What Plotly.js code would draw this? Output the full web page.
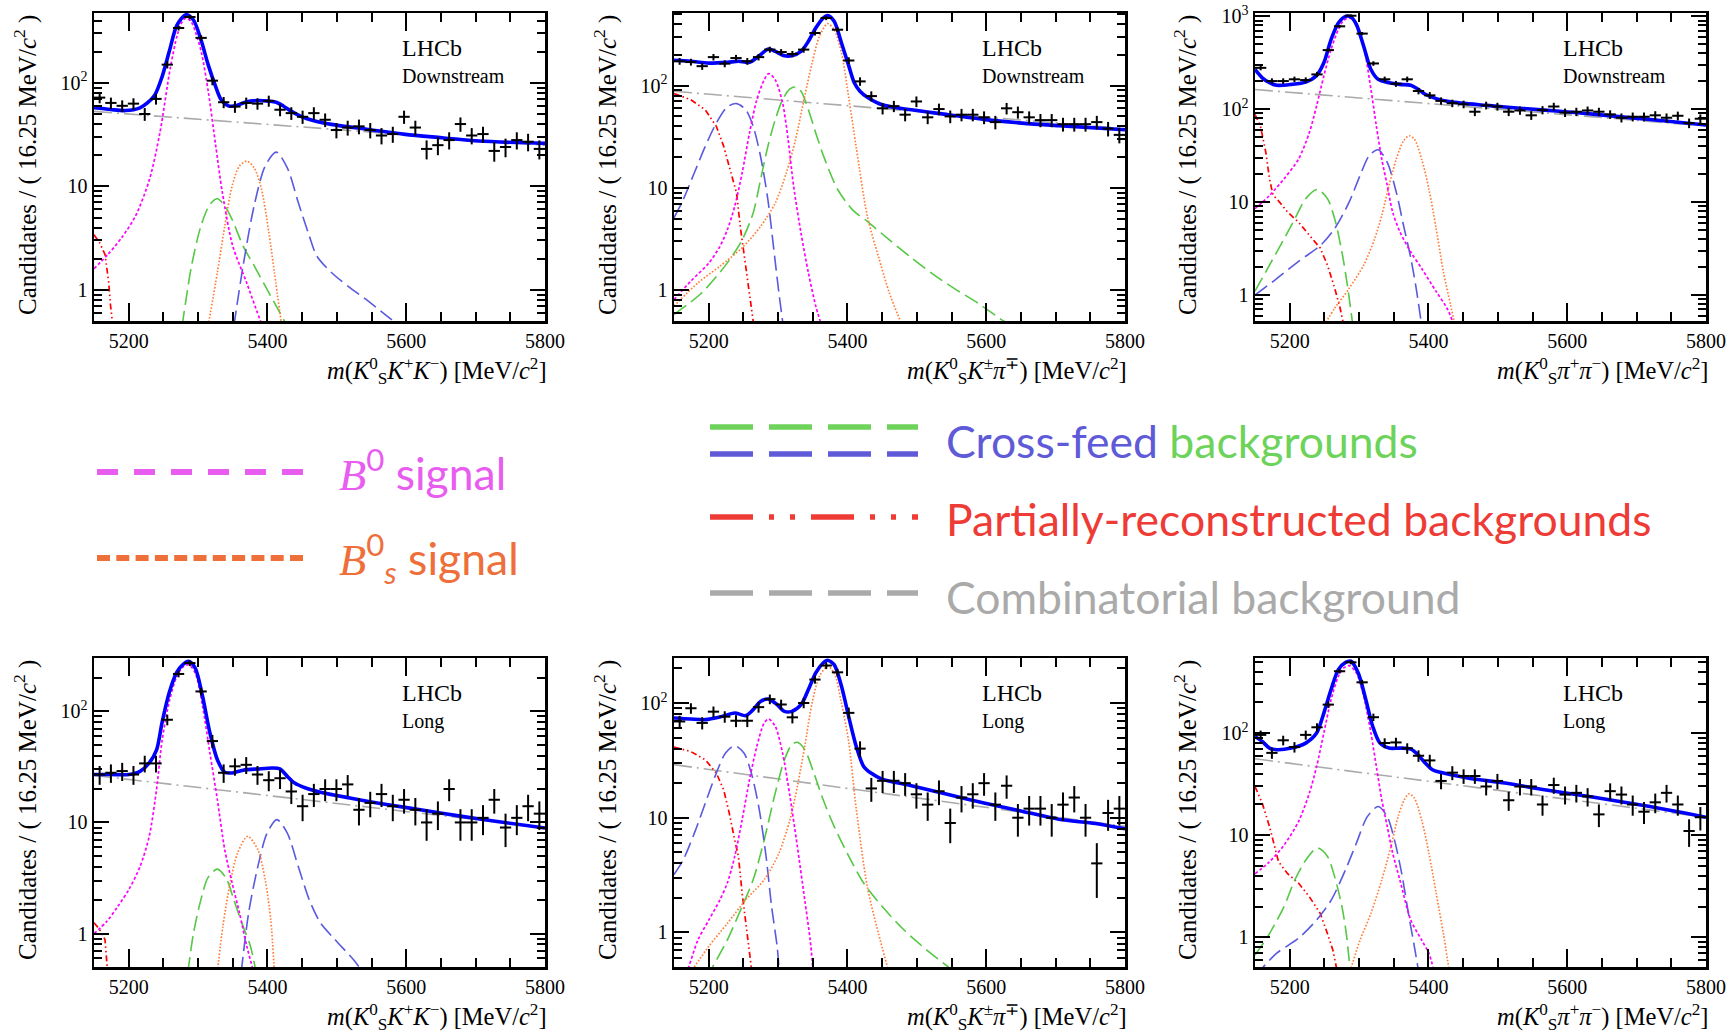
<!DOCTYPE html>
<html>
<head>
<meta charset="utf-8">
<script src="https://cdn.plot.ly/plotly-3.0.1.min.js"></script>
<style>html,body{margin:0;padding:0;background:#fff;}#chart{width:1731px;height:1033px;}</style>
</head>
<body>
<div id="chart"></div>
<script>
// ---------------- DATA ----------------
const binCenters = [5158.125,5174.375,5190.625,5206.875,5223.125,5239.375,5255.625,5271.875,5288.125,5304.375,5320.625,5336.875,5353.125,5369.375,5385.625,5401.875,5418.125,5434.375,5450.625,5466.875,5483.125,5499.375,5515.625,5531.875,5548.125,5564.375,5580.625,5596.875,5613.125,5629.375,5645.625,5661.875,5678.125,5694.375,5710.625,5726.875,5743.125,5759.375,5775.625,5791.875];
const binHalfWidth = 8.125;

// Panel 1: K0S K+ K-, Downstream
const p1Counts = [72,64,60,63,50,70,150,339,433,272,105,65,59,64,63,67,55,51,47,51,44,35,37,38,35,31,32,47,37,23,25,28,40,31,32,22,24,28,27,23];
const p1TotX = [5150,5173.9,5195.1,5216.3,5226.9,5237.5,5248.2,5258.8,5269.4,5282.7,5293.3,5303.9,5314.5,5325.1,5333.1,5343.7,5354.3,5364.9,5375.5,5386.1,5402,5412.6,5423.3,5433.9,5449.8,5465.7,5492.2,5545.3,5598.4,5651.4,5704.5,5800];
const p1TotY = [57.4,55.3,54,57.4,64,76,115,205,360,456,405,265,150,93,69,60,60,64,66.6,67.5,66.6,65,59.5,53.3,47,43.3,39.7,35.5,31.8,29.5,27.4,26];
const p1CombX = [5150,5800], p1CombY = [53,25];
const p1B0X = [5150,5170,5190,5210,5230,5245,5260,5270,5277,5283,5290,5297,5305,5315,5325,5335,5350,5370,5390,5400];
const p1B0Y = [1.6,2.2,3.2,5.2,11.7,33,140,290,390,424,390,300,194,80,26,8.7,2.65,1.17,0.5,0.35];
const p1GreenX = [5277,5282.7,5290.6,5303.9,5317.1,5327.8,5338.4,5349,5364.9,5380.8,5396.7,5418,5426];
const p1GreenY = [0.45,0.81,1.71,4.1,6.7,7.6,6.5,4.8,2.65,1.71,1.09,0.6,0.48];
const p1BsX = [5314.5,5327.8,5338.4,5349,5359.6,5370.2,5380.8,5391.4,5402,5410,5420.6];
const p1BsY = [0.45,1.47,4.1,10.1,15.7,17.5,15.1,9.4,3.6,1.47,0.45];
const p1BlueX = [5351.6,5364.9,5380.8,5396.7,5412.7,5428.6,5444.5,5460.4,5471,5492.2,5518.8,5545.3,5566.5,5585];
const p1BlueY = [0.45,1.71,6.5,15.7,21.4,15.1,6.95,3.3,2.13,1.47,1.05,0.78,0.6,0.48];
const p1RedX = [5150,5158,5165.9,5171.2,5173.9,5176.5,5178];
const p1RedY = [3.4,2.86,2.2,1.18,0.7,0.5,0.4];

// Panel 2: K0S K± π∓, Downstream
const p2Counts = [173,170,155,190,164,186,173,190,225,213,204,225,327,458,352,176,110,79,60,63,52,70,49,59,50,52,52,49,44,60,55,49,46,46,42,42,42,44,38,33];
const p2TotX = [5150,5173.9,5200.4,5226.9,5242.9,5258.8,5274.7,5286.4,5295.9,5309.2,5319.8,5333.1,5343.7,5354.3,5364.9,5371.3,5380.8,5391.4,5402,5410,5418,5428.6,5449.8,5492.2,5545.3,5598.4,5651.4,5704.5,5800];
const p2TotY = [177,173,166,169,173,169,201,228,216,196,196,216,271,366,458,483,425,261,155,106,88,77,65,58,52,46.5,43,40.6,37];
const p2CombX = [5150,5800], p2CombY = [88,38];
const p2B0X = [5150,5173.9,5200.4,5216.3,5226.9,5237.5,5248.2,5258.8,5269.4,5280,5286.4,5295.9,5306.5,5314.5,5322.4,5333.1,5343.7,5354.3,5360.7];
const p2B0Y = [0.81,1.22,1.85,2.69,3.9,6.6,14,34.4,73,114,131,114,68,29.6,10.4,3.6,1.48,0.7,0.5];
const p2GreenX = [5150,5189.8,5226.9,5248.2,5264.1,5274.7,5285.3,5295.9,5306.5,5317.1,5325.1,5333.1,5343.7,5354.3,5367.5,5386.1,5407.3,5428.6,5460.4,5492.2,5524.1,5555.9,5587.7,5624.9,5635.5];
const p2GreenY = [0.58,0.94,1.85,3.1,5.7,12,25.5,46.5,73,93,97,88,58,34.4,18.9,9.6,6.1,4.7,3.1,2.07,1.42,1.02,0.75,0.5,0.45];
const p2BlueX = [5150,5163.3,5179.2,5195.1,5211,5226.9,5240.2,5253.5,5264.1,5274.7,5285.3,5293.3,5301.2,5306.5];
const p2BlueY = [5.1,7.7,14,25.5,43,62,66.7,58,40,20.4,7.7,2.7,0.94,0.5];
const p2BsX = [5150,5184.5,5216.3,5248.2,5274.7,5295.9,5311.8,5325.1,5338.4,5349,5359.6,5371.3,5380.8,5391.4,5402,5412.6,5428.6,5444.5,5460.4,5476.3];
const p2BsY = [0.7,1.18,1.72,2.6,4.2,7.1,14,29.6,79,166,303,403,352,210,75,25,5.3,2.15,0.94,0.5];
const p2RedX = [5150,5173.9,5195.1,5211,5221.6,5232.2,5240.2,5245.5,5250.8,5258.8,5264.1];
const p2RedY = [83.6,73,58,40,25.5,14,8.9,4.2,2.3,1.0,0.5];

// Panel 3: K0S π+ π-, Downstream
const p3Counts = [279,201,201,210,206,237,433,781,1016,652,311,210,188,210,157,141,123,116,113,94,110,107,94,97,86,98,107,92,94,97,94,88,81,83,83,86,81,85,71,79];
const p3TotX = [5150,5160.4,5170.9,5181.3,5202.2,5223.1,5238.8,5249.2,5259.6,5270.1,5280.5,5288.4,5296.2,5306.6,5317.1,5327.5,5343.2,5358.8,5374.5,5385,5395.4,5411.1,5431.9,5484.1,5536.4,5588.6,5640.8,5693,5745.2,5800];
const p3TotY = [268,218,193,181,185,196,231,316,562,849,1000,984,815,477,268,210,193,185,181,164,145,130,120,110,102,95,88,80.7,74.3,67.5];
const p3CombX = [5150,5800], p3CombY = [163,66];
const p3B0X = [5150,5170.9,5191.8,5212.7,5228.3,5238.8,5249.2,5259.6,5270.1,5277.9,5285.7,5296.2,5306.6,5317.1,5324.9,5332.7,5340.6,5348.4,5358.8,5374.5,5390.2,5411.1,5426.7,5437.2];
const p3B0Y = [8.5,11.8,17.8,29,56,109,228,440,720,906,960,834,477,164,66,29,15.1,7.8,4.8,2.9,1.93,1.09,0.72,0.47];
const p3GreenX = [5150,5170.9,5191.8,5207.4,5223.1,5239.8,5254.4,5264.9,5275.3,5283.1,5291];
const p3GreenY = [1.1,2.1,4.0,6.6,10.9,13.7,10.9,6.6,2.9,1.28,0.47];
const p3BlueX = [5150,5181.3,5212.7,5244,5264.9,5285.7,5301.4,5314.5,5327.5,5340.6,5353.6,5364.1,5374.5,5382.3,5390.2];
const p3BlueY = [1.0,1.5,2.3,3.4,5.2,10,19.3,31.6,36.6,26.8,12.8,5.6,2.5,1.18,0.47];
const p3BsX = [5249.2,5264.9,5285.7,5306.6,5322.3,5332.7,5343.2,5353.6,5364.1,5371.9,5379.7,5390.2,5400.6,5411.1,5421.5,5431.9,5438.2];
const p3BsY = [0.47,0.72,1.18,2.1,4.0,7.2,15.1,29,45.8,51.8,47.7,29,13.9,5.2,1.78,0.78,0.47];
const p3RedX = [5150,5157.8,5165.7,5170.9,5176.1,5181.3,5197,5212.7,5228.3,5244,5254.4,5264.9,5272.7,5277.9];
const p3RedY = [88,66,34,17.8,11.8,10.9,7.8,6.1,4.4,3.2,2.1,1.18,0.72,0.47];

// Panel 4: K0S K+ K-, Long
const p4Counts = [27,28,29,27,34,34,84,217,272,151,54,28,32,33,27,24,25,19,14,18,20,20,22,13,15,18,14,16,13,10,12,20,10,10,11,16,9,11,14,12];
const p4TotX = [5150,5173.9,5200.4,5216.3,5229.6,5240.2,5248.2,5258.8,5269.4,5278.4,5286.4,5295.9,5306.5,5317.1,5327.8,5338.4,5349,5364.9,5386.1,5407.3,5418,5428.6,5439.2,5455.1,5476.3,5518.8,5571.8,5624.9,5678,5731,5800];
const p4TotY = [27,27,27,28.8,34.3,45,80,150,225,265,282,245,136,63.8,36.7,28.3,27.9,29.5,30.3,30.9,30.3,26,22.6,20.4,18.7,16.6,14.5,12.9,11.4,10.2,8.9];
const p4CombX = [5150,5800], p4CombY = [26.5,9.0];
const p4B0X = [5150,5168.6,5184.5,5200.4,5216.3,5229.6,5240.2,5248.2,5258.8,5269.4,5278.4,5286.4,5295.9,5306.5,5317.1,5327.8,5338.4,5349,5359.6,5370.2,5378.2];
const p4B0Y = [1.0,1.29,1.76,2.5,4.0,7.5,20,55,125,207,251,263,221,111,42,16,5.7,2.86,1.54,0.77,0.5];
const p4GreenX = [5285.3,5293.3,5303.9,5314.5,5327.8,5341,5351.6,5364.9,5375.5,5383.5];
const p4GreenY = [0.45,1.0,2.0,3.2,3.8,3.1,2.0,1.16,0.77,0.45];
const p4BsX = [5327.8,5335.7,5346.3,5356.9,5371.3,5386.1,5396.7,5404.7,5410];
const p4BsY = [0.45,1.16,2.86,5.3,7.5,5.7,3.06,1.34,0.45];
const p4BlueX = [5362.2,5372.9,5386.1,5399.4,5413.7,5428.6,5444.5,5460.4,5476.3,5497.5,5524.1,5532];
const p4BlueY = [0.45,1.54,4.0,8.0,10.6,8.0,4.0,2.0,1.25,0.88,0.58,0.5];
const p4RedX = [5150,5158,5165.9,5169.6];
const p4RedY = [1.25,1.09,0.88,0.45];

// Panel 5: K0S K± π∓, Long
const p5Counts = [69,90,67,84,76,70,70,92,108,97,75,100,160,212,185,82,40,18,21,21,20,16,13,17,9,15,16,20,13,19,10,12,12,10,13,15,10,4,11,12];
const p5TotX = [5150,5173.9,5195.1,5216.3,5237.5,5253.5,5264.1,5274.7,5286.4,5298.6,5309.2,5319.8,5333.1,5343.7,5354.3,5364.9,5371.3,5380.8,5391.4,5402,5412.6,5423.3,5433.9,5449.8,5492.2,5545.3,5598.4,5651.4,5704.5,5757.5,5800];
const p5TotY = [74,72.5,71.6,75.5,81.8,77.6,87.5,103,108,96.7,84.5,84.5,96.7,131,183,223,236,216,140,75,41.9,28,24.5,21.7,19,15.9,13.4,11.4,9.7,8.9,8.0];
const p5CombX = [5150,5800], p5CombY = [29,8.4];
const p5B0X = [5165,5171.2,5184.5,5200.4,5216.3,5226.9,5237.5,5248.2,5258.8,5269.4,5280,5286.4,5295.9,5306.5,5317.1,5327.8,5338.4,5346.3,5350];
const p5B0Y = [0.4,0.5,0.86,1.29,1.93,2.7,4.6,9.6,21.4,41.9,67,72.5,62.7,36.6,15.4,5.6,1.93,0.86,0.5];
const p5GreenX = [5198,5205.7,5226.9,5248.2,5264.1,5280,5295.9,5309.2,5319.8,5327.8,5338.4,5351.6,5364.9,5380.8,5402,5423.3,5449.8,5481.6,5513.5,5545.3,5555];
const p5GreenY = [0.4,0.5,0.86,1.69,2.88,6.4,16.4,32,43.4,45.4,39.2,24.5,14.4,8.4,4.6,2.7,1.69,1.05,0.71,0.5,0.45];
const p5BlueX = [5150,5163.3,5179.2,5195.1,5211,5224.3,5237.5,5250.8,5261.4,5272,5282.7,5290.6,5298.6,5301.2];
const p5BlueY = [3.2,4.3,7.3,13.4,24.5,36.6,42.5,36.6,24.5,12.6,4.6,1.69,0.76,0.5];
const p5BsX = [5179.2,5200.4,5226.9,5253.5,5280,5301.2,5317.1,5327.8,5338.4,5349,5359.6,5371.3,5380.8,5391.4,5402,5412.6,5428.6,5444.5,5457.7];
const p5BsY = [0.5,0.76,1.2,1.93,2.88,4.9,9.6,18.8,41.9,100,171,209,183,100,45,12,2.5,0.99,0.5];
const p5RedX = [5150,5173.9,5195.1,5211,5221.6,5229.6,5237.5,5242.9,5248.2,5253.5,5258.8,5261.4];
const p5RedY = [41.3,37.8,32,24.5,17.5,11,6.4,4.6,2.2,1.2,0.71,0.5];

// Panel 6: K0S π+ π-, Long
const p6Counts = [96,64,85,73,96,114,190,403,493,314,143,80,81,71,60,54,34,41,38,38,30,34,22,30,30,20,31,25,26,24,16,27,25,20,17,21,26,20,11,15];
const p6TotX = [5150,5160.4,5170.9,5181.3,5202.2,5223.1,5238.8,5249.2,5259.6,5270.1,5280.5,5288.4,5298.8,5309.2,5319.7,5330.1,5343.2,5358.8,5374.5,5385,5395.4,5405.8,5421.5,5458,5510.2,5562.5,5614.7,5666.9,5719.1,5771.3,5800];
const p6TotY = [92.7,82.8,71.3,68.7,71.3,79.8,100,157,266,418,493,505,387,220,116,79.8,71.3,71.3,69.7,61.4,50.8,43.7,40.6,36.2,32.4,28.2,24.9,21.9,19.1,16.4,15];
const p6CombX = [5150,5800], p6CombY = [56,15];
const p6B0X = [5150,5170.9,5191.8,5212.7,5228.3,5238.8,5249.2,5259.6,5270.1,5277.9,5285.7,5296.2,5306.6,5317.1,5324.9,5332.7,5340.6,5348.4,5358.8,5374.5,5390.2,5400.6,5406.9];
const p6B0Y = [4.2,5.5,8.0,13.6,25.8,47,100,212,359,434,457,387,229,100,47,22.2,12.2,6.7,3.65,1.48,0.94,0.7,0.5];
const p6GreenX = [5150,5170.9,5191.8,5207.4,5223.1,5239.8,5254.4,5264.9,5275.3,5281.6,5286.8];
const p6GreenY = [0.67,1.09,2.0,3.65,5.7,7.5,6.2,3.9,2.0,1.09,0.5];
const p6BlueX = [5150,5160.4,5181.3,5212.7,5238.8,5259.6,5280.5,5296.2,5311.9,5327.5,5340.6,5351,5361.5,5371.9,5379.7,5385];
const p6BlueY = [0.42,0.5,0.70,0.98,1.48,2.3,4.6,8.4,15.2,19.1,15.2,9.0,4.2,1.6,0.81,0.5];
const p6BsX = [5288.4,5301.4,5317.1,5332.7,5345.8,5356.2,5365.1,5371.9,5379.7,5390.2,5400.6,5411.1,5421.5,5429.3];
const p6BsY = [0.5,0.94,1.72,3.65,7.7,15.2,22.2,25.4,23.1,14.1,6.7,2.7,1.09,0.5];
const p6RedX = [5150,5160.4,5170.9,5178.7,5183.9,5197,5212.7,5228.3,5244,5254.4,5262.3,5267.5];
const p6RedY = [30,20.6,12.2,7.7,5.5,4.2,3.4,2.5,1.72,1.09,0.75,0.5];

// Labels
const xTitles = [
  '<i>m</i>(<i>K</i><sup>0</sup><sub>S</sub><i>K</i><sup>+</sup><i>K</i><sup>−</sup>) [MeV/<i>c</i><sup>2</sup>]',
  '<i>m</i>(<i>K</i><sup>0</sup><sub>S</sub><i>K</i><sup>±</sup><i>π</i><sup>∓</sup>) [MeV/<i>c</i><sup>2</sup>]',
  '<i>m</i>(<i>K</i><sup>0</sup><sub>S</sub><i>π</i><sup>+</sup><i>π</i><sup>−</sup>) [MeV/<i>c</i><sup>2</sup>]'
];
const yTitle = 'Candidates / ( 16.25 MeV/<i>c</i><sup>2</sup> )';
const trackTypes = ['Downstream','Downstream','Downstream','Long','Long','Long'];
const xTickVals = [5200,5400,5600,5800];
const xTickText = ['5200','5400','5600','5800'];
const xMinorVals = [5150,5250,5300,5350,5450,5500,5550,5650,5700,5750];
const yTickVals = [1,10,100,1000];
const yTickText = ['1','10','10<sup>2</sup>','10<sup>3</sup>'];
const yMinorVals = [0.5,0.6,0.7,0.8,0.9,2,3,4,5,6,7,8,9,20,30,40,50,60,70,80,90,200,300,400,500,600,700,800,900,2000];

// ---------------- LAYOUT HELPERS ----------------
const W = 1731, H = 1033;
const px = v => v / W;
const py = v => 1 - v / H;
const colPx = [[94,545],[674,1125],[1255,1706]];
const rowPx = [[13,321],[658,967]];
const yRanges = [[-0.301,2.675],[-0.301,2.71],[-0.28,3.036],[-0.301,2.48],[-0.301,2.392],[-0.29,2.735]];

const panels = [
  {counts:p1Counts, tot:[p1TotX,p1TotY], comb:[p1CombX,p1CombY], b0:[p1B0X,p1B0Y], bs:[p1BsX,p1BsY], green:[p1GreenX,p1GreenY], blue:[p1BlueX,p1BlueY], red:[p1RedX,p1RedY]},
  {counts:p2Counts, tot:[p2TotX,p2TotY], comb:[p2CombX,p2CombY], b0:[p2B0X,p2B0Y], bs:[p2BsX,p2BsY], green:[p2GreenX,p2GreenY], blue:[p2BlueX,p2BlueY], red:[p2RedX,p2RedY]},
  {counts:p3Counts, tot:[p3TotX,p3TotY], comb:[p3CombX,p3CombY], b0:[p3B0X,p3B0Y], bs:[p3BsX,p3BsY], green:[p3GreenX,p3GreenY], blue:[p3BlueX,p3BlueY], red:[p3RedX,p3RedY]},
  {counts:p4Counts, tot:[p4TotX,p4TotY], comb:[p4CombX,p4CombY], b0:[p4B0X,p4B0Y], bs:[p4BsX,p4BsY], green:[p4GreenX,p4GreenY], blue:[p4BlueX,p4BlueY], red:[p4RedX,p4RedY]},
  {counts:p5Counts, tot:[p5TotX,p5TotY], comb:[p5CombX,p5CombY], b0:[p5B0X,p5B0Y], bs:[p5BsX,p5BsY], green:[p5GreenX,p5GreenY], blue:[p5BlueX,p5BlueY], red:[p5RedX,p5RedY]},
  {counts:p6Counts, tot:[p6TotX,p6TotY], comb:[p6CombX,p6CombY], b0:[p6B0X,p6B0Y], bs:[p6BsX,p6BsY], green:[p6GreenX,p6GreenY], blue:[p6BlueX,p6BlueY], red:[p6RedX,p6RedY]}
];

const styles = {
  comb:  {color:'#aaaaaa', width:1.6, dash:'18px,5px,2px,5px', shape:'linear'},
  red:   {color:'#ff0000', width:1.7, dash:'6px,3px,1.5px,3px,1.5px,3px', shape:'linear'},
  green: {color:'#55c845', width:1.6, dash:'15px,6px', shape:'spline'},
  blue:  {color:'#5a5ae0', width:1.6, dash:'15px,6px', shape:'spline'},
  bs:    {color:'#ff7f3a', width:1.7, dash:'1.6px,1.8px', shape:'spline'},
  b0:    {color:'#ff00ff', width:1.7, dash:'3px,2.2px', shape:'spline'},
  tot:   {color:'#0000ff', width:3.6, dash:'solid', shape:'spline'}
};

const serif = 'Liberation Serif, Times New Roman, serif';
const traces = [];
const layout = {
  width: W, height: H,
  margin: {l:0, r:0, t:0, b:0, pad:0},
  paper_bgcolor: '#ffffff', plot_bgcolor: '#ffffff',
  showlegend: false,
  font: {family: serif, color: '#000'},
  annotations: [], shapes: []
};

panels.forEach((p, i) => {
  const col = i % 3, row = Math.floor(i / 3);
  const sfx = i === 0 ? '' : String(i + 1);
  const xa = 'x' + sfx, ya = 'y' + sfx;
  ['comb','red','green','blue','bs','b0','tot'].forEach(k => {
    const s = styles[k];
    traces.push({
      type:'scatter', mode:'lines', x:p[k][0], y:p[k][1], xaxis:xa, yaxis:ya,
      line:{color:s.color, width:s.width, dash:s.dash, shape:s.shape, smoothing:0.8},
      hoverinfo:'skip'
    });
  });
  traces.push({
    type:'scatter', mode:'markers', x:binCenters, y:p.counts, xaxis:xa, yaxis:ya,
    marker:{size:2, color:'#000'},
    error_x:{type:'constant', value:binHalfWidth, thickness:2, width:0, color:'#000'},
    error_y:{type:'sqrt', thickness:2, width:0, color:'#000'}
  });
  const [xl, xr] = colPx[col], [yt, yb] = rowPx[row];
  layout['xaxis' + sfx] = {
    domain:[px(xl), px(xr)], anchor:ya, range:[5150,5800],
    showline:true, linewidth:2.5, linecolor:'#000', mirror:'allticks',
    ticks:'inside', ticklen:18, tickwidth:2, tickcolor:'#000',
    tickmode:'array', tickvals:xTickVals, ticktext:xTickText,
    minor:{tickmode:'array', tickvals:xMinorVals, ticks:'inside', ticklen:9, tickwidth:2, tickcolor:'#000', showgrid:false},
    tickfont:{family:serif, size:20, color:'#000'},
    showgrid:false, zeroline:false
  };
  layout['yaxis' + sfx] = {
    domain:[py(yb), py(yt)], anchor:xa, type:'log', range:yRanges[i],
    showline:true, linewidth:2.5, linecolor:'#000', mirror:'allticks',
    ticks:'inside', ticklen:15, tickwidth:2, tickcolor:'#000',
    tickmode:'array', tickvals:yTickVals, ticktext:yTickText,
    minor:{tickmode:'array', tickvals:yMinorVals, ticks:'inside', ticklen:8, tickwidth:2, tickcolor:'#000', showgrid:false},
    tickfont:{family:serif, size:20, color:'#000'},
    showgrid:false, zeroline:false
  };
  // LHCb labels
  layout.annotations.push({xref:'paper', yref:'paper', x:px(xl + 306), y:py(yt + 35), xanchor:'left', yanchor:'middle',
    text:'LHCb', showarrow:false, font:{family:serif, size:24, color:'#000'}});
  layout.annotations.push({xref:'paper', yref:'paper', x:px(xl + 306), y:py(yt + 63), xanchor:'left', yanchor:'middle',
    text:trackTypes[i], showarrow:false, font:{family:serif, size:20, color:'#000'}});
  // y title
  const yTitleX = [25, 605, 1185][col];
  layout.annotations.push({xref:'paper', yref:'paper', x:px(yTitleX), y:py(yt), xanchor:'center', yanchor:'top',
    textangle:-90, text:yTitle, showarrow:false, font:{family:serif, size:25, color:'#000'}});
  // x title
  layout.annotations.push({xref:'paper', yref:'paper', x:px(xr + 4), y:py(yb + 50), xanchor:'right', yanchor:'middle',
    text:xTitles[col], showarrow:false, font:{family:serif, size:24.5, color:'#000'}});
});

// ---------------- LEGEND (drawn as shapes + text) ----------------
const legendFont = 'Lato, Open Sans, sans-serif';
const legendLines = [
  {x0:97, x1:304, y:472, color:'#e85cf0', dash:'21px,16px', w:6},
  {x0:97, x1:304, y:558, color:'#ee6f3a', dash:'13px,6.3px', w:6},
  {x0:710, x1:918, y:427, color:'#6dd35a', dash:'43px,16px', w:5.5},
  {x0:710, x1:918, y:454, color:'#5e5ad8', dash:'43px,16px', w:5.5},
  {x0:710, x1:918, y:517, color:'#ee3b36', dash:'43px,16px,5px,16px,5px,16px', w:5.5},
  {x0:710, x1:918, y:593, color:'#aaaaaa', dash:'43px,16px', w:5.5}
];
legendLines.forEach(l => {
  layout.shapes.push({type:'line', xref:'paper', yref:'paper', x0:px(l.x0), x1:px(l.x1), y0:py(l.y), y1:py(l.y),
    line:{color:l.color, width:l.w, dash:l.dash}});
});
const legendTexts = [
  {x:337, y:470, color:'#e85cf0', text:'<span style="font-family:Liberation Serif"><i>B</i></span><sup>0</sup> signal'},
  {x:337, y:558, color:'#ee6f3a', text:'<span style="font-family:Liberation Serif"><i>B</i></span><sup>0</sup><sub><i>s</i></sub> signal'},
  {x:944, y:440, color:'#5e5ad8', text:'Cross-feed <span style="color:#6dd35a">backgrounds</span>'},
  {x:944, y:518, color:'#ee3b36', text:'Partially-reconstructed backgrounds'},
  {x:944, y:596, color:'#aaaaaa', text:'Combinatorial background'}
];
legendTexts.forEach(t => {
  layout.annotations.push({xref:'paper', yref:'paper', x:px(t.x), y:py(t.y), xanchor:'left', yanchor:'middle',
    text:t.text, showarrow:false, font:{family:legendFont, size:44.5, color:t.color}});
});

Plotly.newPlot('chart', traces, layout, {staticPlot:true, displayModeBar:false});
</script>
</body>
</html>
